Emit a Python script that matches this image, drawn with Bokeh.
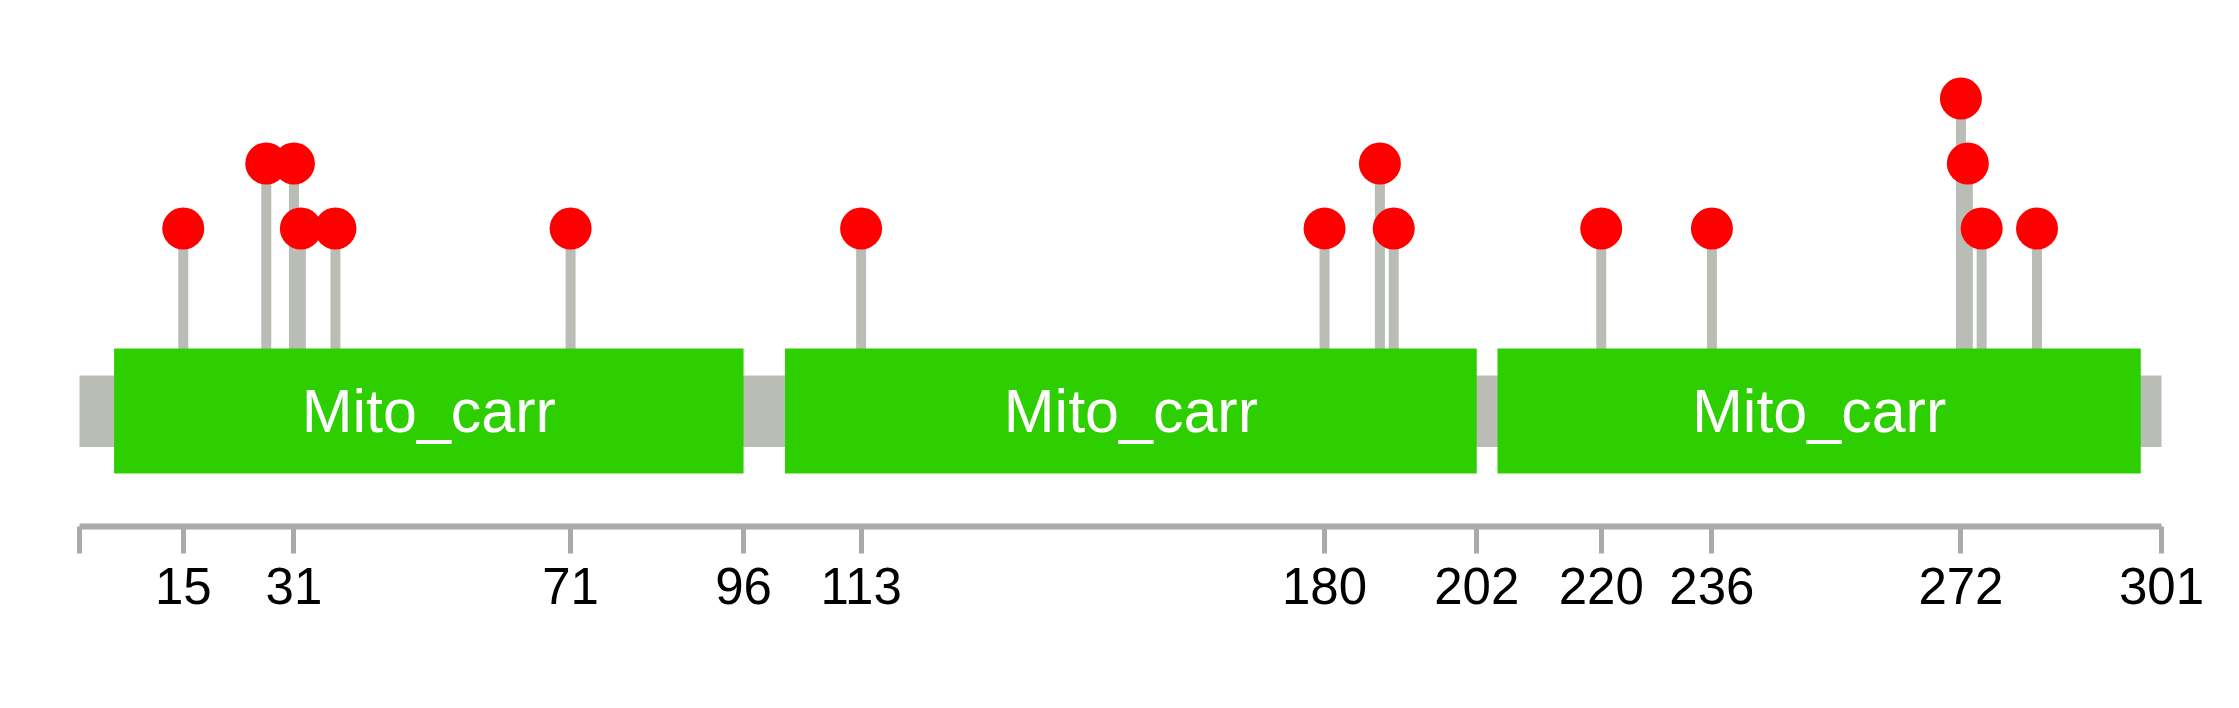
from bokeh.plotting import figure
from bokeh.models import Range1d, FixedTicker, ColumnDataSource
from bokeh.core.properties import value
from bokeh.embed import file_html
from bokeh.resources import INLINE

# ---- data ----
protein_length = 301
domain_names = ["Mito_carr", "Mito_carr", "Mito_carr"]
domain_starts = [5, 102, 205]
domain_ends = [96, 202, 298]
mut_positions = [15, 27, 31, 32, 37, 71, 113, 180, 188, 190, 220, 236, 272, 273, 275, 283]
mut_counts = [1, 2, 2, 1, 1, 1, 1, 1, 2, 1, 1, 1, 3, 2, 1, 1]
tick_positions = [0, 15, 31, 71, 96, 113, 180, 202, 220, 236, 272, 301]

# ---- layout constants ----
W, H = 2223, 692
px_per_unit = 6.917
x0_px = 79.0
x_start = -x0_px / px_per_unit
x_end = (W - x0_px) / px_per_unit
y_lo, y_hi = -3.585, 4.508
dom_center, dom_height = -1.808, 1.923
bb_center, bb_height = -1.813, 1.10

GREEN = "#2ECF00"
GRAY = "#BABDB6"
RED = "#FF0000"
AXIS = "#AAAAAA"
FONT = "Liberation Sans"

p = figure(width=W, height=H, output_backend="svg", toolbar_location=None,
           x_range=Range1d(x_start, x_end), y_range=Range1d(y_lo, y_hi),
           min_border_left=0, min_border_right=0, min_border_top=0, min_border_bottom=166,
           outline_line_color=None, background_fill_color="white", border_fill_color="white")
p.yaxis.visible = False
p.xgrid.visible = False
p.ygrid.visible = False

# backbone
p.rect(x=[protein_length / 2], y=[bb_center], width=[protein_length], height=[bb_height],
       fill_color=GRAY, line_color=None)

# stems
src = ColumnDataSource(dict(x=mut_positions, y=mut_counts, y0=[dom_center] * len(mut_positions)))
p.segment(x0="x", y0="y0", x1="x", y1="y", source=src, line_color=GRAY, line_width=10)

# domains
dsrc = ColumnDataSource(dict(
    cx=[(s + e) / 2 for s, e in zip(domain_starts, domain_ends)],
    w=[e - s for s, e in zip(domain_starts, domain_ends)],
    cy=[dom_center] * len(domain_starts),
    name=domain_names,
))
p.rect(x="cx", y="cy", width="w", height=dom_height, source=dsrc, fill_color=GREEN, line_color=None)
p.text(x="cx", y="cy", text="name", source=dsrc, text_color="white",
       text_font=value(FONT), text_font_size="61px", text_align="center", text_baseline="middle")

# heads
p.scatter(x="x", y="y", source=src, size=42, fill_color=RED, line_color=None)

# axis
ax = p.xaxis[0]
ax.ticker = FixedTicker(ticks=tick_positions)
ax.major_label_overrides = {0: ""}
ax.bounds = (0, protein_length)
ax.axis_line_color = AXIS
ax.axis_line_width = 6
ax.major_tick_line_color = AXIS
ax.major_tick_line_width = 5
ax.major_tick_out = 27
ax.major_tick_in = 0
ax.minor_tick_line_color = None
ax.major_label_text_font = FONT
ax.major_label_text_font_size = "51px"
ax.major_label_text_color = "black"
ax.major_label_standoff = 14

open("out.html", "w").write(file_html(p, INLINE))
